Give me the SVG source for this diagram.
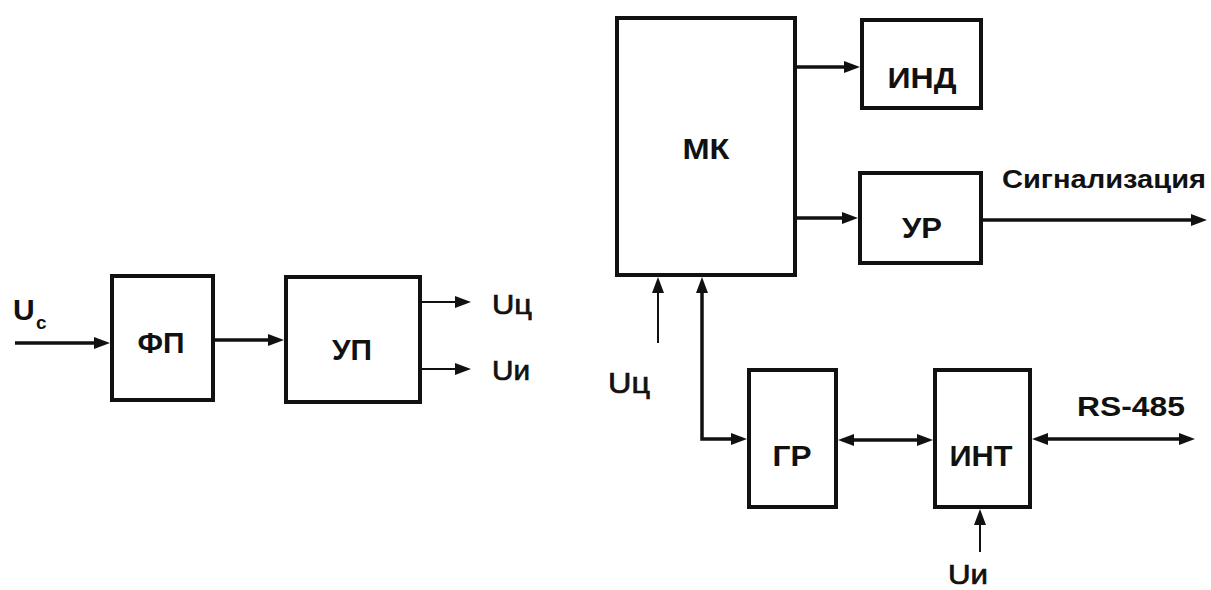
<svg xmlns="http://www.w3.org/2000/svg" width="1211" height="590" viewBox="0 0 1211 590">
<style>
.box{fill:#fff;stroke:#111;stroke-width:4}
.lbl{font-family:"Liberation Sans",Arial,sans-serif;font-weight:bold;fill:#111;text-anchor:middle}
.sig{font-family:"Liberation Sans",Arial,sans-serif;fill:#111}
.u{font-family:"Liberation Sans",Arial,sans-serif;fill:#111;stroke:#111;stroke-width:0.7}
.thick{fill:none;stroke:#111;stroke-width:3.5}
.thin{fill:none;stroke:#111;stroke-width:2}
</style>
<defs>
<marker id="ah" markerUnits="userSpaceOnUse" markerWidth="16" markerHeight="12" refX="10" refY="6" orient="auto-start-reverse">
<path d="M0,0 L16,6 L0,12 z" fill="#111"/>
</marker>
<marker id="ahs" markerUnits="userSpaceOnUse" markerWidth="16" markerHeight="12" refX="10" refY="6" orient="auto">
<path d="M0,0 L16,6 L0,12 z" fill="#111"/>
</marker>
</defs>
<rect width="1211" height="590" fill="#fff"/>

<g id="connectors">
<line class="thick" x1="15" y1="343" x2="104" y2="343" marker-end="url(#ah)"/>
<line class="thick" x1="215" y1="340" x2="278" y2="340" marker-end="url(#ah)"/>
<line class="thin" x1="422" y1="302" x2="465" y2="302" marker-end="url(#ahs)"/>
<line class="thin" x1="422" y1="369" x2="465" y2="369" marker-end="url(#ahs)"/>
<line class="thick" x1="797" y1="67" x2="854" y2="67" marker-end="url(#ah)"/>
<line class="thick" x1="797" y1="218" x2="852" y2="218" marker-end="url(#ah)"/>
<line class="thick" x1="983" y1="220" x2="1201" y2="220" marker-end="url(#ah)"/>
<line class="thin" x1="658" y1="343" x2="658" y2="283" marker-end="url(#ahs)"/>
<path class="thick" d="M702,283 V439 H741" marker-start="url(#ah)" marker-end="url(#ah)"/>
<line class="thick" x1="844" y1="440" x2="927" y2="440" marker-start="url(#ah)" marker-end="url(#ah)"/>
<line class="thick" x1="1038" y1="439" x2="1189" y2="439" marker-start="url(#ah)" marker-end="url(#ah)"/>
<line class="thin" x1="980" y1="552" x2="980" y2="515" marker-end="url(#ahs)"/>
</g>

<g id="FP"><rect class="box" x="112" y="276" width="101" height="124"/><text class="lbl" x="161" y="353" font-size="30" textLength="47" lengthAdjust="spacingAndGlyphs">ФП</text></g>
<g id="UP"><rect class="box" x="286" y="277" width="134" height="125"/><text class="lbl" x="352" y="360" font-size="30" textLength="40" lengthAdjust="spacingAndGlyphs">УП</text></g>
<g id="MK"><rect class="box" x="617" y="18" width="178" height="257"/><text class="lbl" x="706" y="159" font-size="30" textLength="47" lengthAdjust="spacingAndGlyphs">МК</text></g>
<g id="IND"><rect class="box" x="862" y="20" width="119" height="88"/><text class="lbl" x="922" y="88" font-size="29" textLength="69" lengthAdjust="spacingAndGlyphs">ИНД</text></g>
<g id="UR"><rect class="box" x="860" y="173" width="121" height="90"/><text class="lbl" x="922" y="238" font-size="29" textLength="40" lengthAdjust="spacingAndGlyphs">УР</text></g>
<g id="GR"><rect class="box" x="749" y="370" width="87" height="137"/><text class="lbl" x="792" y="466" font-size="30" textLength="39" lengthAdjust="spacingAndGlyphs">ГР</text></g>
<g id="INT"><rect class="box" x="935" y="370" width="95" height="137"/><text class="lbl" x="981" y="466" font-size="30" textLength="63" lengthAdjust="spacingAndGlyphs">ИНТ</text></g>

<g id="labels">
<text class="sig" x="13" y="320" font-size="30" font-weight="bold">U<tspan x="36" y="329" font-size="19">с</tspan></text>
<text class="u" x="492" y="314" font-size="28" textLength="40" lengthAdjust="spacingAndGlyphs">Uц</text>
<text class="u" x="492" y="380" font-size="28" textLength="38" lengthAdjust="spacingAndGlyphs">Uи</text>
<text class="u" x="608" y="393" font-size="30" textLength="42" lengthAdjust="spacingAndGlyphs">Uц</text>
<text class="u" x="948" y="584" font-size="27" textLength="40" lengthAdjust="spacingAndGlyphs">Uи</text>
<text class="sig" x="1002" y="188" font-size="25" font-weight="bold" textLength="204" lengthAdjust="spacingAndGlyphs">Сигнализация</text>
<text class="sig" x="1077" y="416" font-size="27" font-weight="bold" textLength="108" lengthAdjust="spacingAndGlyphs">RS-485</text>
</g>
</svg>
